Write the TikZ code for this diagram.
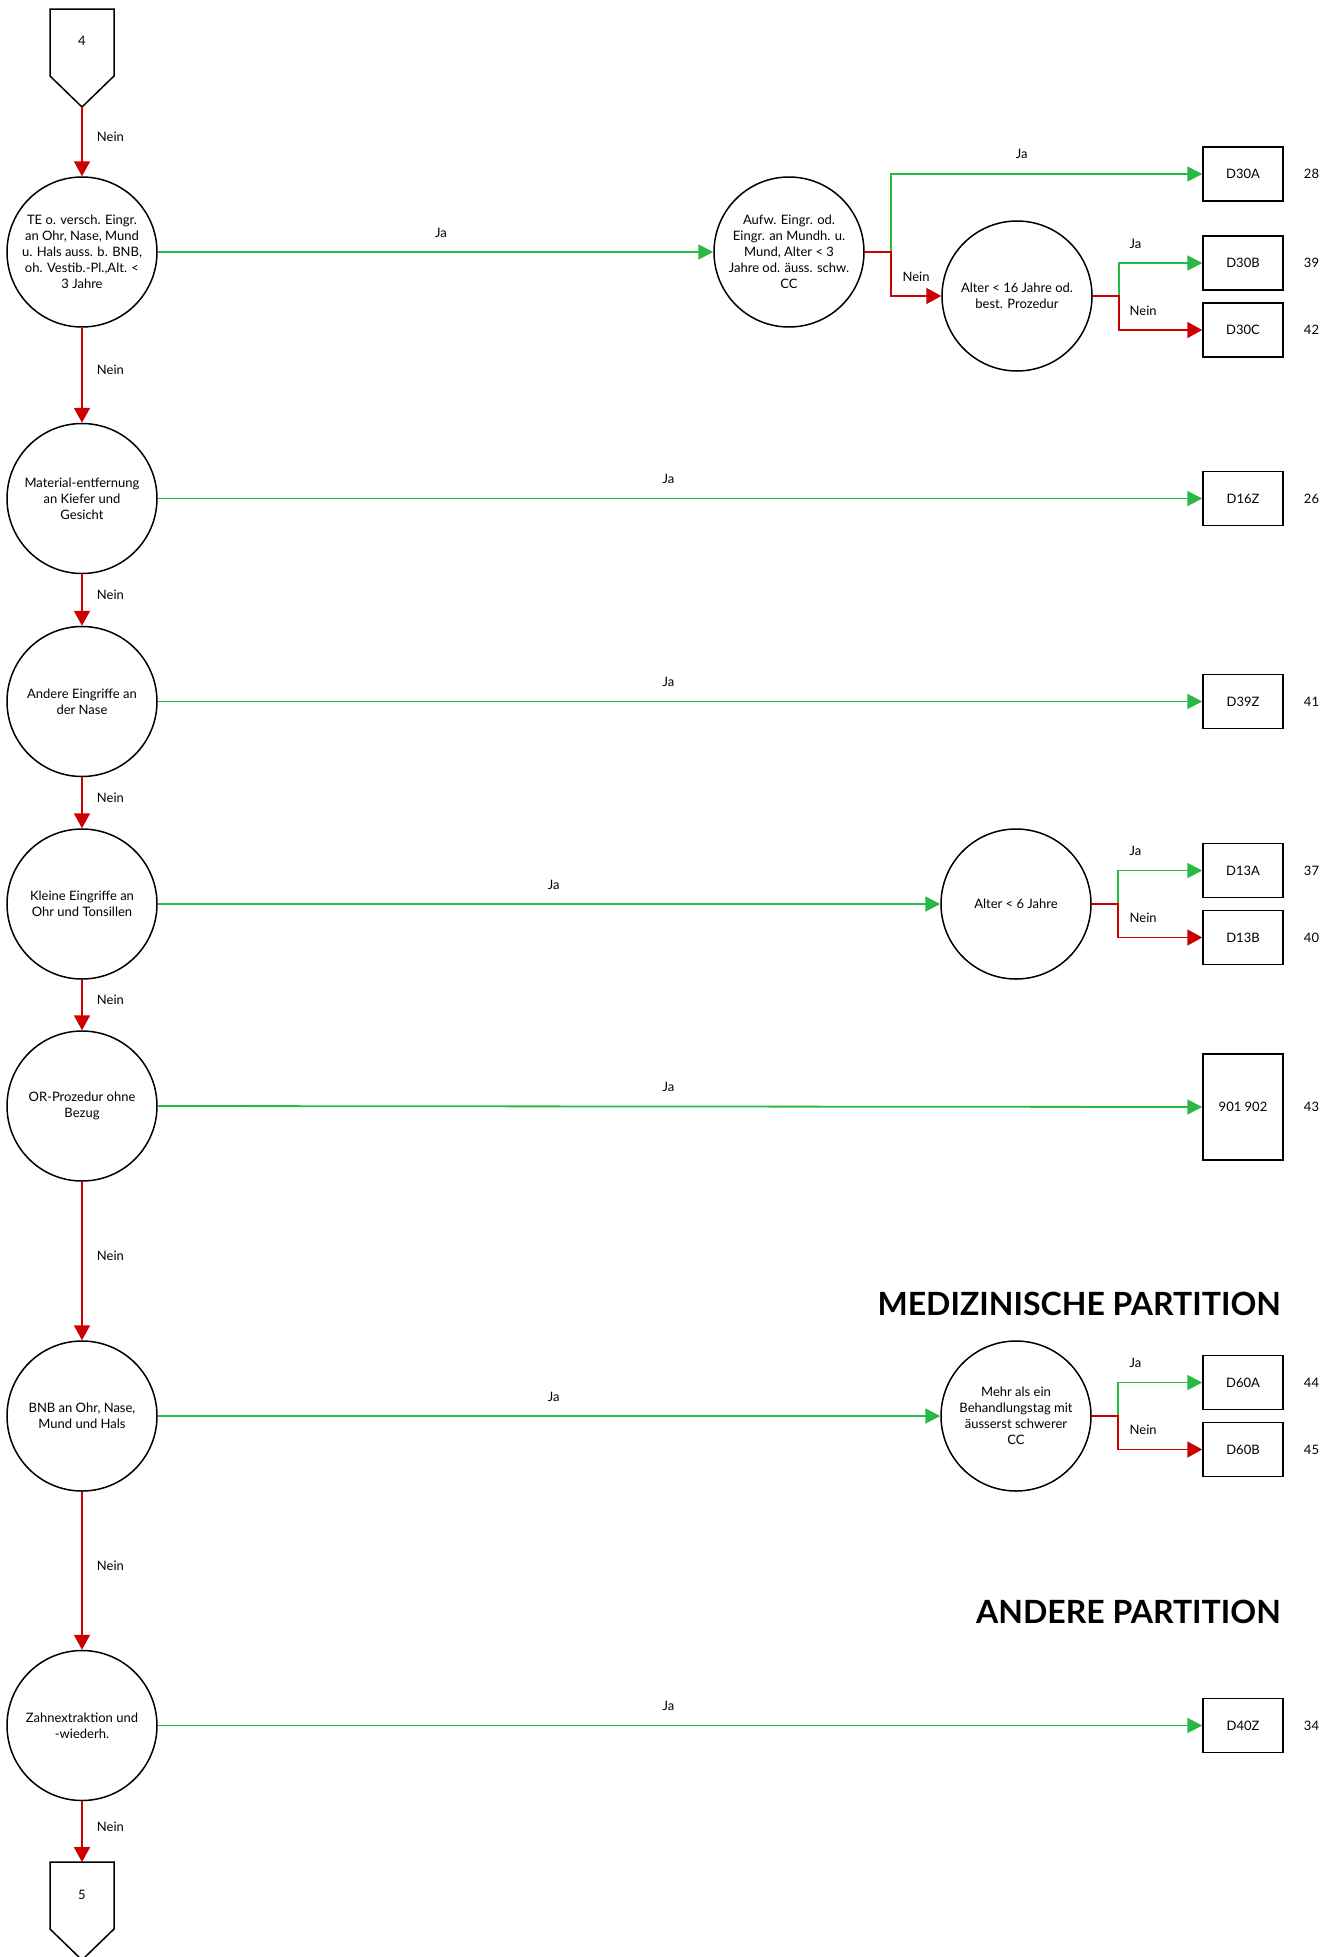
\documentclass[tikz,border=0pt]{standalone}
\usepackage{fontspec}
\setmainfont{Lato}
\usepackage{tikz}
\usetikzlibrary{arrows.meta,positioning}
\definecolor{jagruen}{RGB}{40,185,70}
\definecolor{neinrot}{RGB}{204,0,0}
\newcommand{\lblfont}{\fontsize{13}{16}\selectfont}

\begin{document}
\begin{tikzpicture}[x=1pt,y=-1pt,
  frage/.style={circle,draw=black,line width=1.5pt,minimum size=150pt,inner sep=0pt,align=center,font=\lblfont},
  drg/.style={rectangle,draw=black,line width=1.5pt,minimum width=80pt,minimum height=54pt,inner sep=0pt,font=\lblfont},
  ja/.style={color=jagruen,line width=1.8pt,-{Triangle[length=15pt,width=15pt]}},
  nein/.style={color=neinrot,line width=1.8pt,-{Triangle[length=15pt,width=16pt]}},
  lbl/.style={text=black,font=\lblfont,inner sep=0pt},
  rang/.style={font=\lblfont,inner sep=0pt},
  titel/.style={font=\fontsize{32}{36}\selectfont\bfseries,inner sep=0pt}]
  \useasboundingbox (0,0) rectangle (1336,1957);
  \clip (0,0) rectangle (1336,1957);

  % off-page connectors
  \draw[line width=1.5pt] (50,9) -- (114,9) -- (114,76) -- (82,107) -- (50,76) -- cycle;
  \node[font=\lblfont] (c4) at (82,41) {4};
  \coordinate (c4tip) at (82,107);
  \draw[line width=1.5pt] (50,1862) -- (114,1862) -- (114,1929) -- (82,1960) -- (50,1929) -- cycle;
  \node[font=\lblfont] (c5) at (82,1895) {5};
  \coordinate (c5top) at (82,1862);

  % questions on the main line
  \node[frage] (teo) at (82,252) {TE o. versch. Eingr.\\an Ohr, Nase, Mund\\u. Hals auss. b. BNB,\\oh. Vestib.-Pl.,Alt. <\\3 Jahre};
  \node[frage] (mat) at (82,498.5) {Material-entfernung\\an Kiefer und\\Gesicht};
  \node[frage] (nase) at (82,701.5) {Andere Eingriffe an\\der Nase};
  \node[frage] (ohr) at (82,904) {Kleine Eingriffe an\\Ohr und Tonsillen};
  \node[frage] (orp) at (82,1106) {OR-Prozedur ohne\\Bezug};
  \node[frage] (bnb) at (82,1416) {BNB an Ohr, Nase,\\Mund und Hals};
  \node[frage] (zahn) at (82,1725.5) {Zahnextraktion und\\-wiederh.};

  % further questions
  \node[frage] (aufw) at (789,252) {Aufw. Eingr. od.\\Eingr. an Mundh. u.\\Mund, Alter < 3\\Jahre od. äuss. schw.\\CC};
  \node[frage] (alt16) at (1017,296) {Alter < 16 Jahre od.\\best. Prozedur};
  \node[frage] (alt6) at (1016,904) {Alter < 6 Jahre};
  \node[frage] (mehr) at (1016,1416) {Mehr als ein\\Behandlungstag mit\\äusserst schwerer\\CC};

  % DRGs
  \node[drg] (d30a) at (1243,174) {D30A};
  \node[drg] (d30b) at (1243,263) {D30B};
  \node[drg] (d30c) at (1243,330) {D30C};
  \node[drg] (d16z) at (1243,498.5) {D16Z};
  \node[drg] (d39z) at (1243,701.5) {D39Z};
  \node[drg] (d13a) at (1243,870.5) {D13A};
  \node[drg] (d13b) at (1243,937.5) {D13B};
  \node[drg,minimum height=106pt] (or9) at (1243,1107) {901 902};
  \node[drg] (d60a) at (1243,1382.5) {D60A};
  \node[drg] (d60b) at (1243,1449.5) {D60B};
  \node[drg] (d40z) at (1243,1725.5) {D40Z};

  \node[rang,right=20pt of d30a] (r28) {28};
  \node[rang,right=20pt of d30b] (r39) {39};
  \node[rang,right=20pt of d30c] (r42) {42};
  \node[rang,right=20pt of d16z] (r26) {26};
  \node[rang,right=20pt of d39z] (r41) {41};
  \node[rang,right=20pt of d13a] (r37) {37};
  \node[rang,right=20pt of d13b] (r40) {40};
  \node[rang,right=20pt of or9] (r43) {43};
  \node[rang,right=20pt of d60a] (r44) {44};
  \node[rang,right=20pt of d60b] (r45) {45};
  \node[rang,right=20pt of d40z] (r34) {34};

  \node[titel,anchor=east] (medpart) at (1281,1304) {MEDIZINISCHE PARTITION};
  \node[titel,anchor=east] (andpart) at (1281,1612) {ANDERE PARTITION};

  % Nein down the main line
  \draw[nein] (c4tip) -- (teo.north) node[lbl,midway,right=14pt,yshift=5pt] {Nein};
  \draw[nein] (teo.south) -- (mat.north) node[lbl,midway,right=14pt,yshift=5pt] {Nein};
  \draw[nein] (mat.south) -- (nase.north) node[lbl,midway,right=14pt,yshift=5pt] {Nein};
  \draw[nein] (nase.south) -- (ohr.north) node[lbl,midway,right=14pt,yshift=5pt] {Nein};
  \draw[nein] (ohr.south) -- (orp.north) node[lbl,midway,right=14pt,yshift=5pt] {Nein};
  \draw[nein] (orp.south) -- (bnb.north) node[lbl,midway,right=14pt,yshift=5pt] {Nein};
  \draw[nein] (bnb.south) -- (zahn.north) node[lbl,midway,right=14pt,yshift=5pt] {Nein};
  \draw[nein] (zahn.south) -- (c5top) node[lbl,midway,right=14pt,yshift=5pt] {Nein};

  % Ja to the right
  \draw[ja] (teo.east) -- (aufw.west) node[lbl,pos=0.51,above=14pt] {Ja};
  \draw[ja] (mat.east) -- (d16z.west) node[lbl,pos=0.489,above=14pt] {Ja};
  \draw[ja] (nase.east) -- (d39z.west) node[lbl,pos=0.489,above=14pt] {Ja};
  \draw[ja] (ohr.east) -- (alt6.west) node[lbl,pos=0.506,above=14pt] {Ja};
  \draw[ja] (orp.east) -- (or9.west) node[lbl,pos=0.489,above=14pt] {Ja};
  \draw[ja] (bnb.east) -- (mehr.west) node[lbl,pos=0.506,above=14pt] {Ja};
  \draw[ja] (zahn.east) -- (d40z.west) node[lbl,pos=0.489,above=14pt] {Ja};

  % branches
  \draw[ja] (aufw.east) -- ++(26,0) |- (d30a.west) node[lbl,pos=0.71,above=14pt] {Ja};
  \draw[nein] (aufw.east) -- ++(26,0) |- (alt16.west) node[lbl,pos=0.75,above=14pt] {Nein};

  \draw[ja] (alt16.east) -- ++(26,0) |- (d30b.west) node[lbl,pos=0.5,anchor=south west,xshift=10pt,yshift=14pt] {Ja};
  \draw[nein] (alt16.east) -- ++(26,0) |- (d30c.west) node[lbl,pos=0.5,anchor=south west,xshift=10pt,yshift=14pt] {Nein};

  \draw[ja] (alt6.east) -- ++(26,0) |- (d13a.west) node[lbl,pos=0.5,anchor=south west,xshift=11pt,yshift=14pt] {Ja};
  \draw[nein] (alt6.east) -- ++(26,0) |- (d13b.west) node[lbl,pos=0.5,anchor=south west,xshift=11pt,yshift=14pt] {Nein};

  \draw[ja] (mehr.east) -- ++(26,0) |- (d60a.west) node[lbl,pos=0.5,anchor=south west,xshift=11pt,yshift=14pt] {Ja};
  \draw[nein] (mehr.east) -- ++(26,0) |- (d60b.west) node[lbl,pos=0.5,anchor=south west,xshift=11pt,yshift=14pt] {Nein};
\end{tikzpicture}
\end{document}
